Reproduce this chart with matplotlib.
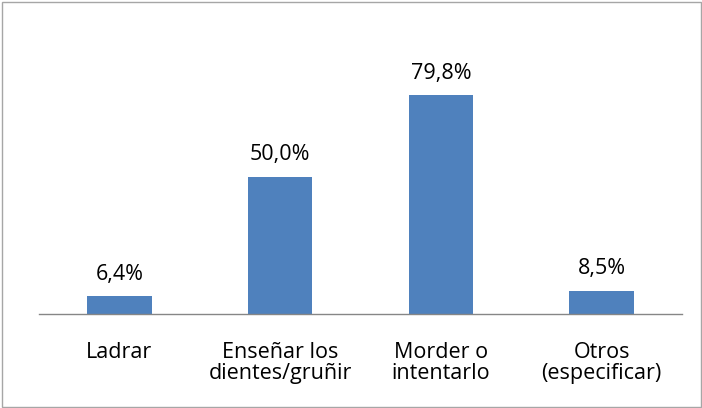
import matplotlib
matplotlib.use("Agg")
import matplotlib.pyplot as plt
from matplotlib.patches import Rectangle

categories = ["Ladrar", "Enseñar los\ndientes/gruñir", "Morder o\nintentarlo", "Otros\n(especificar)"]
values = [6.4, 50.0, 79.8, 8.5]
value_labels = ["6,4%", "50,0%", "79,8%", "8,5%"]

plt.rcParams['font.family'] = ['Open Sans', 'DejaVu Sans']

fig = plt.figure(figsize=(7.02, 4.08), dpi=100)
W, H = 702, 408
ax = fig.add_axes([39 / W, (H - 314) / H, (682 - 39) / W, (314 - 40) / H])

x = range(len(categories))
ax.bar(x, values, width=0.4, color="#4F81BD", zorder=2)
ax.set_xlim(-0.5, len(categories) - 0.5)
ax.set_ylim(0, 100)

for xi, v, lab in zip(x, values, value_labels):
    ax.annotate(lab, (xi, v), xytext=(0, 8.5), textcoords="offset points",
                ha="center", va="bottom", fontsize=15.5, color="#000000")

ax.set_xticks(list(x))
ax.set_xticklabels(categories, fontsize=15.5, linespacing=1.0)
ax.tick_params(axis="x", length=0, pad=20)
ax.set_yticks([])
for s in ["top", "left", "right"]:
    ax.spines[s].set_visible(False)
ax.spines["bottom"].set_color("#868686")
ax.spines["bottom"].set_linewidth(1.0)

fig.patches.append(Rectangle((1.5 / W, 1.5 / H), (W - 3) / W, (H - 3) / H,
                             transform=fig.transFigure, fill=False,
                             edgecolor="#A6A6A6", linewidth=1.0))

fig.savefig("out.png", dpi=100)
